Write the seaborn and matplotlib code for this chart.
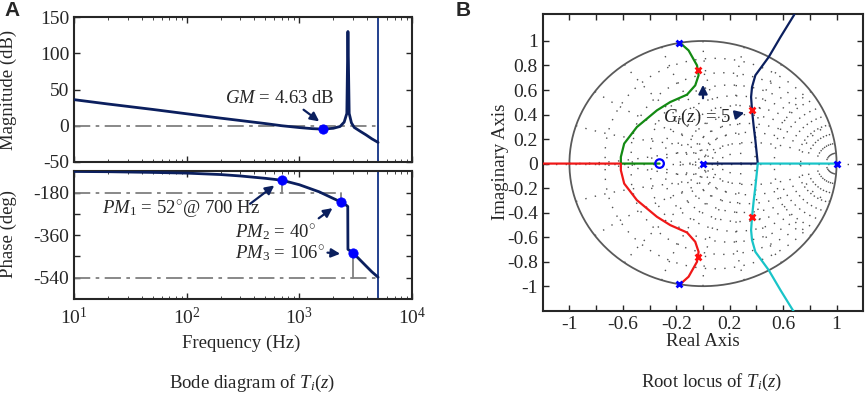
import numpy as np
import pandas as pd
import matplotlib
matplotlib.use("Agg")
import matplotlib.pyplot as plt
import seaborn as sns

# ---------------- data ----------------
mag_freq = [10, 20, 50, 100, 200, 500, 700, 1000, 1300, 1620, 2000, 2300, 2500,
            2640, 2700, 2770, 2900, 3070, 3500, 3900, 4400, 5000]
mag_db = [36, 30, 22.5, 16.5, 10.5, 3, 0, -2.5, -4, -4.63, -3.5, -1, 5,
          17, 130, 17, 4, -2.3, -8, -12.5, -18, -23]

phase_freq = [10, 20, 50, 100, 200, 300, 500, 700, 1000, 1500, 2000, 2340, 2600,
              2690, 2700, 2966, 3300, 3900, 4400, 5000]
phase_deg = [-91, -92, -95, -98, -104, -110, -120, -128, -147, -177, -205, -220,
             -233, -239, -420, -434, -455, -490, -515, -538]

gm_freq = [1620]
gm_db = [-4.63]
pm_freq = [700, 2340, 2966]
pm_deg = [-128, -220, -434]
nyquist_freq = 5000

# root locus (upper-half branches; lower half is the conjugate)
green_re = [-0.178, -0.108, -0.045, -0.033, -0.058, -0.12, -0.245, -0.345,
            -0.495, -0.59, -0.615, -0.615, -0.325]
green_im = [0.991, 0.923, 0.801, 0.72, 0.638, 0.562, 0.502, 0.434,
            0.298, 0.163, 0.054, 0.0, 0.0]
navy_re = [0.0, 0.41, 0.41, 0.392, 0.38, 0.367, 0.36, 0.367, 0.392, 0.492, 0.58, 0.68, 0.69]
navy_im = [0.0, 0.0, 0.0, 0.19, 0.298, 0.434, 0.543, 0.624, 0.72, 0.869, 1.032, 1.209, 1.23]
red_axis_re = [-1.25, -0.615]
cyan_axis_re = [1.0, 0.41]

ol_poles_re = [-0.178, -0.178, 0.0, 1.0]
ol_poles_im = [0.985, -0.985, 0.0, 0.0]
ol_zero_re = [-0.325]
ol_zero_im = [0.0]
cl_poles_re = [-0.04, -0.04, 0.367, 0.367]
cl_poles_im = [0.76, -0.76, 0.434, -0.434]

# ---------------- style ----------------
sns.set_style("ticks")
plt.rcParams.update({
    "font.family": ["Liberation Serif", "DejaVu Serif"],
    "mathtext.fontset": "custom",
    "mathtext.rm": "Liberation Serif",
    "mathtext.it": "Liberation Serif:italic",
    "mathtext.bf": "Liberation Serif:bold",
    "axes.unicode_minus": False,
    "xtick.direction": "in",
    "ytick.direction": "in",
    "xtick.top": True,
    "ytick.right": True,
    "axes.linewidth": 1.5,
    "xtick.major.size": 4,
    "ytick.major.size": 4,
    "xtick.minor.size": 2.5,
    "xtick.major.width": 1.0,
    "ytick.major.width": 1.0,
})

NAVY = "#0b1f5e"
VLINE = "#23408e"
GREY = "#7f7f7f"
PT = "#0000ff"
W, H = 865, 393
fig = plt.figure(figsize=(W / 100, H / 100), dpi=100)


def box(l, t, r, b):
    return [l / W, 1 - b / H, (r - l) / W, (b - t) / H]


ax_m = fig.add_axes(box(74, 17, 412, 162))
ax_p = fig.add_axes(box(74, 171, 412, 299))
ax_r = fig.add_axes(box(542.7, 14, 863.3, 310.7))

TICK_FS = 14
LAB_FS = 13.5
DASHDOT = (0, (9, 3, 2, 3))
arrow_kw = dict(arrowstyle="-|>", color=NAVY, lw=1.6, mutation_scale=13)

# ---------- magnitude ----------
ax_m.set_xscale("log")
ax_m.plot([10, nyquist_freq], [0, 0], color=GREY, lw=1.3, ls=DASHDOT, zorder=1)
ax_m.plot([nyquist_freq, nyquist_freq], [0, mag_db[-1]], color=GREY, lw=1.3, zorder=1)
sns.lineplot(x=mag_freq, y=mag_db, ax=ax_m, sort=False, estimator=None,
             color=NAVY, lw=2, zorder=3)
sns.scatterplot(x=gm_freq, y=gm_db, ax=ax_m, color=PT, s=45, edgecolor=PT, zorder=4)
ax_m.axvline(nyquist_freq, color=VLINE, lw=1.4, zorder=2)
ax_m.set_xlim(10, 10000)
ax_m.set_ylim(-50, 150)
ax_m.set_yticks([-50, 0, 50, 100, 150])
ax_m.set_yticklabels(["-50", "0", "50", "100", "150"], fontsize=TICK_FS)
ax_m.tick_params(axis="x", which="both", labelbottom=False)
ax_m.annotate("", xy=(1571, 3.7), xytext=(1042, 24.4), arrowprops=arrow_kw)
ax_m.text(221, 37, r"$GM$ = 4.63 dB", fontsize=LAB_FS, ha="left", va="center")

# ---------- phase ----------
ax_p.set_xscale("log")
ax_p.plot([10, pm_freq[1]], [-180, -180], color=GREY, lw=1.3, ls=DASHDOT, zorder=1)
ax_p.plot([10, nyquist_freq], [-540, -540], color=GREY, lw=1.3, ls=DASHDOT, zorder=1)
ax_p.plot([pm_freq[0]] * 2, [-180, pm_deg[0]], color=GREY, lw=1.3, zorder=1)
ax_p.plot([pm_freq[1]] * 2, [-180, pm_deg[1]], color=GREY, lw=1.3, zorder=1)
ax_p.plot([pm_freq[2]] * 2, [-540, pm_deg[2]], color=GREY, lw=1.3, zorder=1)
sns.lineplot(x=phase_freq, y=phase_deg, ax=ax_p, sort=False, estimator=None,
             color=NAVY, lw=2, zorder=3)
sns.scatterplot(x=pm_freq, y=pm_deg, ax=ax_p, color=PT, s=45, edgecolor=PT, zorder=4)
ax_p.axvline(nyquist_freq, color=VLINE, lw=1.4, zorder=2)
ax_p.set_xlim(10, 10000)
ax_p.set_ylim(-630, -89)
ax_p.set_yticks([-540, -450, -360, -270, -180])
ax_p.set_yticklabels(["-540", "", "-360", "", "-180"], fontsize=TICK_FS)
ax_p.set_xticks([10, 100, 1000, 10000])
ax_p.set_xticklabels([r"$10^{1}$", r"$10^{2}$", r"$10^{3}$", r"$10^{4}$"], fontsize=TICK_FS)
ax_p.tick_params(axis="x", which="major", pad=6)
ax_p.annotate("", xy=(627, -143), xytext=(349, -235), arrowprops=arrow_kw)
ax_p.annotate("", xy=(2061, -239), xytext=(1419, -296), arrowprops=arrow_kw)
ax_p.annotate("", xy=(2438, -440), xytext=(1680, -433), arrowprops=arrow_kw)
ax_p.text(17.6, -252, r"$PM_1$ = 52$^{\circ}$@ 700 Hz", fontsize=LAB_FS, ha="left", va="center")
ax_p.text(267, -345, r"$PM_2$ = 40$^{\circ}$", fontsize=LAB_FS, ha="left", va="center")
ax_p.text(267, -435, r"$PM_3$ = 106$^{\circ}$", fontsize=LAB_FS, ha="left", va="center")

for a in (ax_m, ax_p):
    a.set_xlabel("")
    a.set_ylabel("")

# ---------- root locus ----------
grid_kw = dict(color="#505050", lw=1.0, ls=(0, (1, 6)), zorder=1)
th = np.linspace(0, np.pi, 101)
for zeta in np.arange(0.1, 0.95, 0.1):
    m = np.tan(np.arcsin(zeta))
    z = np.exp(th * (-m + 1j))
    ax_r.plot(z.real, z.imag, **grid_kw)
    ax_r.plot(z.real, -z.imag, **grid_kw)
zt = np.linspace(0, 1, 60)
for wn in np.arange(0.1, 1.01, 0.1):
    w = wn * np.pi
    z = np.exp(-zt * w + 1j * w * np.sqrt(1 - zt ** 2))
    ax_r.plot(z.real, z.imag, **grid_kw)
    ax_r.plot(z.real, -z.imag, **grid_kw)
ax_r.plot([-1.25, 1.25], [0, 0], **grid_kw)
circ = np.linspace(0, 2 * np.pi, 400)
ax_r.plot(np.cos(circ), np.sin(circ), color="#5a5a5a", lw=1.3, zorder=2)

locus = pd.concat([
    pd.DataFrame({"re": green_re, "im": green_im, "branch": "green"}),
    pd.DataFrame({"re": green_re[:-1] + red_axis_re[::-1][:1] + red_axis_re[:1],
                  "im": [-v for v in green_im[:-1]] + [0.0, 0.0], "branch": "red"}),
    pd.DataFrame({"re": navy_re, "im": navy_im, "branch": "navy"}),
    pd.DataFrame({"re": cyan_axis_re + navy_re[2:],
                  "im": [0.0, 0.0] + [-v for v in navy_im[2:]], "branch": "cyan"}),
], ignore_index=True)
palette = {"green": "#138a13", "red": "#f01818", "navy": NAVY, "cyan": "#19c4c8"}
sns.lineplot(data=locus, x="re", y="im", hue="branch", palette=palette, ax=ax_r,
             sort=False, estimator=None, lw=1.6, legend=False, zorder=3)
ax_r.scatter(ol_poles_re, ol_poles_im, marker="x", s=18, color=PT, lw=2, zorder=5)
ax_r.scatter(ol_zero_re, ol_zero_im, marker="o", s=38, facecolor="none",
             edgecolor=PT, lw=1.6, zorder=5)
ax_r.scatter(cl_poles_re, cl_poles_im, marker="x", s=18, color="#ff1010", lw=2, zorder=5)

ax_r.annotate("", xy=(0.0, 0.665), xytext=(0.0, 0.51), arrowprops=arrow_kw)
ax_r.annotate("", xy=(0.33, 0.42), xytext=(0.23, 0.394), arrowprops=arrow_kw)
ax_r.text(-0.296, 0.375, r"$G_i$($z$) = 5", fontsize=LAB_FS, ha="left", va="center")

ax_r.set_xlim(-1.2, 1.2)
ax_r.set_ylim(-1.2, 1.22)
xt = np.round(np.arange(-1.0, 1.01, 0.2), 1)
ax_r.set_xticks(xt)
ax_r.set_xticklabels(["-1", "", "-0.6", "", "-0.2", "", "0.2", "", "0.6", "", "1"],
                     fontsize=TICK_FS)
ax_r.set_yticks(xt)
ax_r.set_yticklabels(["-1", "-0.8", "-0.6", "-0.4", "-0.2", "0", "0.2", "0.4", "0.6",
                      "0.8", "1"], fontsize=TICK_FS)
ax_r.set_xlabel("")
ax_r.set_ylabel("")

# ---------- figure texts ----------
def ftext(x, y, s, **kw):
    fig.text(x / W, 1 - y / H, s, **kw)

ftext(8, 90, "Magnitude (dB)", rotation=90, ha="center", va="center", fontsize=LAB_FS)
ftext(8, 234, "Phase (deg)", rotation=90, ha="center", va="center", fontsize=LAB_FS)
ftext(241, 343, "Frequency (Hz)", ha="center", va="center", fontsize=LAB_FS)
ftext(500, 162, "Imaginary Axis", rotation=90, ha="center", va="center", fontsize=LAB_FS)
ftext(703, 341, "Real Axis", ha="center", va="center", fontsize=LAB_FS)
ftext(252, 383, r"Bode diagram of $T_i$($z$)", ha="center", va="center", fontsize=LAB_FS)
ftext(712, 382, r"Root locus of $T_i$($z$)", ha="center", va="center", fontsize=LAB_FS)
ftext(12, 10, "A", ha="center", va="center", fontsize=15, fontweight="bold",
      family="Liberation Sans")
ftext(463, 10, "B", ha="center", va="center", fontsize=15, fontweight="bold",
      family="Liberation Sans")

fig.savefig("out.png", dpi=100)
